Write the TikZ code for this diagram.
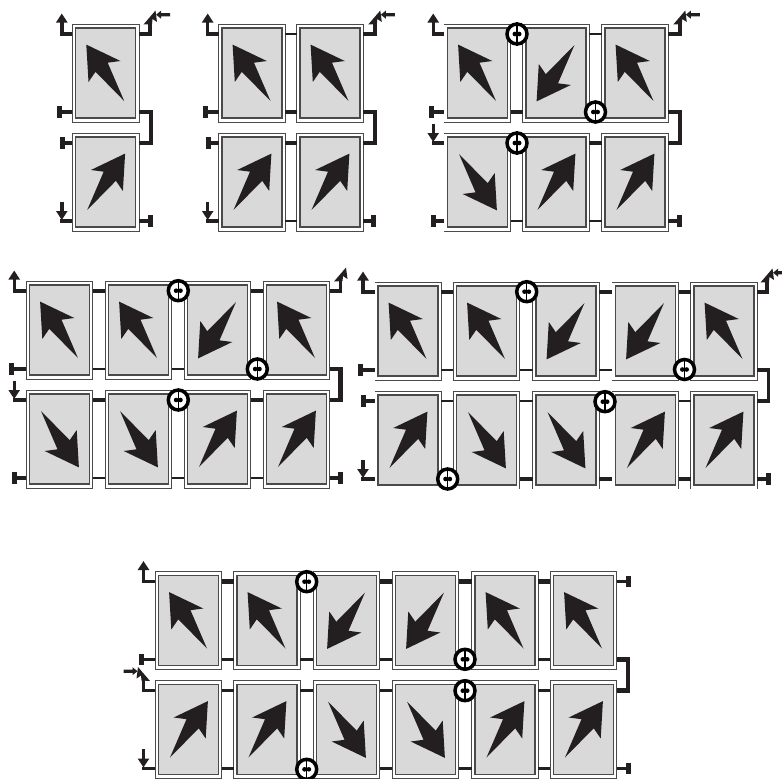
\documentclass[tikz,border=0pt]{standalone}
\usetikzlibrary{calc,arrows.meta}
\definecolor{ink}{HTML}{231F20}
\definecolor{cellgray}{HTML}{D9D9D9}
\definecolor{frame}{HTML}{4A4A4A}
\tikzset{
  pblank/.style={draw=none,fill=white,minimum width=66.7pt,minimum height=98pt,inner sep=0pt,outer sep=0pt},
  pinner/.style={draw=frame,line width=1.2pt,fill=cellgray,minimum width=60pt,minimum height=90pt,inner sep=0pt,outer sep=0pt},
  frameline/.style={draw=frame,line width=1pt},
  wire/.style={draw=ink,line width=3.4pt},
  thinwire/.style={draw=ink,line width=2.7pt},
  thickwire/.style={draw=ink,line width=4.2pt},
  barline/.style={draw=ink,line width=5pt},
  headtip/.style={-{Triangle[width=11pt,length=9pt]}},
  bypass/.style={draw=black,line width=3.5pt,fill=white}
}
\newcommand{\framefull}[1]{\draw[frameline] (#1.north west) rectangle (#1.south east);}
\newcommand{\frameopen}[1]{\draw[frameline] (#1.north west) -- (#1.north east) -- (#1.south east) -- (#1.south west);}
\newcommand{\framelowa}[1]{\draw[frameline] (#1.north west) -- (#1.north east) -- (#1.south east);}
\newcommand{\framelowb}[1]{\draw[frameline] (#1.south west) -- (#1.north west) -- (#1.north east) -- (#1.south east);}
% name, x, y, xscale, yscale, frame kind
\newcommand{\pnl}[6]{%
  \node[pblank] (#1) at (#2,#3) {};
  \csname frame#6\endcsname{#1}
  \node[pinner] (#1-in) at (#2,#3) {};
  \coordinate (#1-tl) at (#2-33.3,#3-39);
  \coordinate (#1-tr) at (#2+33.3,#3-39);
  \coordinate (#1-bl) at (#2-33.3,#3+39);
  \coordinate (#1-br) at (#2+33.3,#3+39);
  \fill[ink,shift={(#2,#3)},xscale=#4,yscale=#5]
    (-19.4,-28.4) -- (14.8,-12) -- (2,-10.3) -- (18.5,28) -- (-10.2,-1.2) -- (-17.2,9) -- cycle;
}
\newcommand{\pnw}[4][full]{\pnl{#2}{#3}{#4}{1}{1}{#1}}
\newcommand{\pne}[4][full]{\pnl{#2}{#3}{#4}{-1}{1}{#1}}
\newcommand{\psw}[4][full]{\pnl{#2}{#3}{#4}{1}{-1}{#1}}
\newcommand{\pse}[4][full]{\pnl{#2}{#3}{#4}{-1}{-1}{#1}}
% terminal bar: name, from, dx, wire style
\newcommand{\termbar}[4]{%
  \coordinate (#1) at ($(#2)+(#3,0)$);
  \coordinate (#1-a) at ($(#1)+(0,-5.8)$);
  \coordinate (#1-b) at ($(#1)+(0,5.8)$);
  \draw[#4] (#2) -- (#1);
  \draw[barline] (#1-a) -- (#1-b);
}
% up arrow out of a panel: name, from, dx
\newcommand{\upout}[3]{%
  \coordinate (#1) at ($(#2)+(#3,-20.5)$);
  \draw[wire,headtip] (#2) -| (#1);
}
% down arrow beside a panel
\newcommand{\downin}[3]{%
  \coordinate (#1-c) at ($(#2)+(#3,0)$);
  \coordinate (#1-t) at ($(#1-c)+(0,-19.5)$);
  \coordinate (#1-h) at ($(#1-c)+(0,-1)$);
  \draw[wire] (#2) -- ($(#1-c)+(-1.7,0)$);
  \draw[wire,headtip] (#1-t) -- (#1-h);
}
% tilted head: name, from, dx, dir
\newcommand{\tilthead}[4]{%
  \coordinate (#1) at ($(#2)+(#3,-11)$);
  \draw[wire] (#2) -| (#1);
  \fill[ink,shift={(#1)},xscale=#4] (-6.5,1.5) -- (5.5,-12.5) -- (7,-1) -- (2.5,-4) -- (2,1) -- cycle;
}
% tilted head plus small incoming arrow: name, from, dx, dir
\newcommand{\combo}[4]{%
  \tilthead{#1}{#2}{#3}{#4}
  \fill[ink,shift={(#1)},xscale=#4] (6,-8.3) -- (11,-12.3) -- (11,-10) -- (20,-10) -- (20,-6.6) -- (11,-6.6) -- (11,-4.3) -- cycle;
}
% return loop: name, upper panel br, lower panel tr, dx, style
\newcommand{\retloop}[5]{%
  \coordinate (#1) at ($(#2)+(#4,0)$);
  \draw[#5,line join=miter] (#2) -- (#1) |- (#3);
}
\newcommand{\bypassmark}[3]{%
  \node[circle,bypass,minimum size=20pt,inner sep=0pt] (#1) at (#2,#3) {};
  \draw[black,line width=1.3pt] (#1.north) -- (#1.south);
  \fill[black] ($(#1)+(-2.2,0)$) circle (2.3pt) ($(#1)+(2.2,0)$) circle (2.3pt);
}
\begin{document}
\begin{tikzpicture}[x=1pt,y=-1pt]
\useasboundingbox[fill=white] (0,0) rectangle (782,779);
% ---------- group A
\pnw{au}{105.7}{73}
\pne{al}{105.7}{182}
\upout{ap}{au-tl}{-10.6}
\combo{am}{au-tr}{11}{1}
\termbar{ab1}{au-bl}{-13}{wire}
\termbar{ab2}{al-tl}{-10}{wire}
\downin{ad}{al-bl}{-10.6}
\termbar{ab3}{al-br}{11.5}{wire}
\retloop{ar}{au-br}{al-tr}{12}{thickwire}
% ---------- group B
\pnw{bu1}{252}{73}
\pnw{bu2}{330}{73}
\pne{bl1}{252}{182}
\pne{bl2}{330}{182}
\draw[thinwire] (bu1-tr) -- (bu2-tl);
\draw[thickwire] (bu1-br) -- (bu2-bl);
\draw[thickwire] (bl1-tr) -- (bl2-tl);
\draw[thinwire] (bl1-br) -- (bl2-bl);
\upout{bp}{bu1-tl}{-11}
\combo{bm}{bu2-tr}{11.5}{1}
\termbar{bb1}{bu1-bl}{-13}{wire}
\termbar{bb2}{bl1-tl}{-10.5}{wire}
\downin{bd}{bl1-bl}{-11}
\termbar{bb3}{bl2-br}{10.5}{wire}
\retloop{br}{bu2-br}{bl2-tr}{12}{thickwire}
% ---------- group C
\pnw[open]{cu1}{477.5}{73}
\psw{cu2}{556}{73}
\pnw{cu3}{635}{73}
\pse[open]{cl1}{477.5}{182}
\pne{cl2}{556}{182}
\pne{cl3}{635}{182}
\draw[thinwire] (cu1-tr) -- (cu2-tl);
\draw[thinwire] (cu2-tr) -- (cu3-tl);
\draw[wire] (cu1-br) -- (cu2-bl);
\draw[thinwire] (cu2-br) -- (cu3-bl);
\draw[thickwire] (cl1-tr) -- (cl2-tl);
\draw[thickwire] (cl2-tr) -- (cl3-tl);
\draw[thinwire] (cl1-br) -- (cl2-bl);
\draw[thinwire] (cl2-br) -- (cl3-bl);
\upout{cp}{cu1-tl}{-11}
\combo{cm}{cu3-tr}{11.5}{1}
\termbar{cb1}{cu1-bl}{-13}{wire}
\downin{cd}{cl1-tl}{-11}
\termbar{cb3}{cl1-bl}{-11}{wire}
\termbar{cb4}{cl3-br}{11.5}{thickwire}
\retloop{cr}{cu3-br}{cl3-tr}{12}{thickwire}
% ---------- group D
\pnw{du1}{59.5}{330}
\pnw{du2}{138.5}{330}
\psw{du3}{217.5}{330}
\pnw{du4}{296.5}{330}
\pse{dl1}{59.5}{439}
\pse{dl2}{138.5}{439}
\pne{dl3}{217.5}{439}
\pne{dl4}{296.5}{439}
\foreach \a/\b in {du1/du2,du2/du3,du3/du4} {
  \draw[wire] (\a-tr) -- (\b-tl);
  \draw[thinwire] (\a-br) -- (\b-bl);
}
\foreach \a/\b in {dl1/dl2,dl2/dl3,dl3/dl4} {
  \draw[thickwire] (\a-tr) -- (\b-tl);
  \draw[thinwire] (\a-br) -- (\b-bl);
}
\upout{dp}{du1-tl}{-12}
\tilthead{dm}{du4-tr}{10.7}{1}
\termbar{db1}{du1-bl}{-14.5}{wire}
\downin{dd}{dl1-tl}{-12}
\termbar{db3}{dl1-bl}{-12}{wire}
\termbar{db4}{dl4-br}{10.5}{wire}
\retloop{dr}{du4-br}{dl4-tr}{10.7}{thickwire}
% ---------- group E
\pnw[open]{eu1}{408}{331}
\pnw{eu2}{486.5}{331}
\psw{eu3}{566}{331}
\psw[open]{eu4}{645.5}{331}
\pnw{eu5}{724}{331}
\pne[lowa]{el1}{408}{440}
\pse[lowb]{el2}{486.5}{440}
\pse[lowb]{el3}{566}{440}
\pne[lowa]{el4}{645.5}{440}
\pne[lowb]{el5}{724}{440}
\foreach \a/\b in {eu1/eu2,eu2/eu3,eu3/eu4,eu4/eu5} {
  \draw[thickwire] (\a-tr) -- (\b-tl);
  \draw[thinwire] (\a-br) -- (\b-bl);
}
\foreach \a/\b in {el1/el2,el2/el3,el3/el4,el4/el5} {
  \draw[thinwire] (\a-tr) -- (\b-tl);
  \draw[wire] (\a-br) -- (\b-bl);
}
\upout{ep}{eu1-tl}{-11.7}
\combo{em}{eu5-tr}{9.7}{1}
\termbar{eb1}{eu1-bl}{-14.5}{wire}
\termbar{eb2}{el1-tl}{-11}{wire}
\downin{ed}{el1-bl}{-11.7}
\termbar{eb3}{el5-br}{11}{wire}
\retloop{er}{eu5-br}{el5-tr}{11}{wire}
% ---------- group F
\pnw{fu1}{188.5}{620.5}
\pnw{fu2}{267}{620.5}
\psw{fu3}{346.5}{620.5}
\psw{fu4}{425.5}{620.5}
\pnw{fu5}{505}{620.5}
\pnw{fu6}{583.5}{620.5}
\pne{fl1}{188.5}{729.5}
\pne{fl2}{267}{729.5}
\pse{fl3}{346.5}{729.5}
\pse{fl4}{425.5}{729.5}
\pne{fl5}{505}{729.5}
\pne{fl6}{583.5}{729.5}
\foreach \a/\b in {fu1/fu2,fu2/fu3,fu3/fu4,fu4/fu5,fu5/fu6} {
  \draw[thickwire] (\a-tr) -- (\b-tl);
  \draw[wire] (\a-br) -- (\b-bl);
}
\foreach \a/\b in {fl1/fl2,fl2/fl3,fl3/fl4,fl4/fl5,fl5/fl6} {
  \draw[wire] (\a-tr) -- (\b-tl);
  \draw[wire] (\a-br) -- (\b-bl);
}
\upout{fp}{fu1-tl}{-11.7}
\termbar{fb1}{fu1-bl}{-14}{wire}
\combo{fm}{fl1-tl}{-11.7}{-1}
\downin{fd}{fl1-bl}{-11.7}
\termbar{fb2}{fu6-tr}{11.3}{wire}
\termbar{fb3}{fl6-br}{11.3}{wire}
\retloop{fr}{fu6-br}{fl6-tr}{11.3}{thickwire}
% ---------- bypass marks
\bypassmark{m1}{517}{34}
\bypassmark{m2}{595.5}{112}
\bypassmark{m3}{517}{143}
\bypassmark{m4}{178.3}{290.7}
\bypassmark{m5}{257.3}{369}
\bypassmark{m6}{178.3}{400}
\bypassmark{m7}{526.7}{291.7}
\bypassmark{m8}{684.5}{369.5}
\bypassmark{m9}{605}{401.7}
\bypassmark{m10}{447.7}{479}
\bypassmark{m11}{306.7}{581.7}
\bypassmark{m12}{465}{659.3}
\bypassmark{m13}{465}{690.7}
\bypassmark{m14}{306.7}{769.3}
\end{tikzpicture}
\end{document}
